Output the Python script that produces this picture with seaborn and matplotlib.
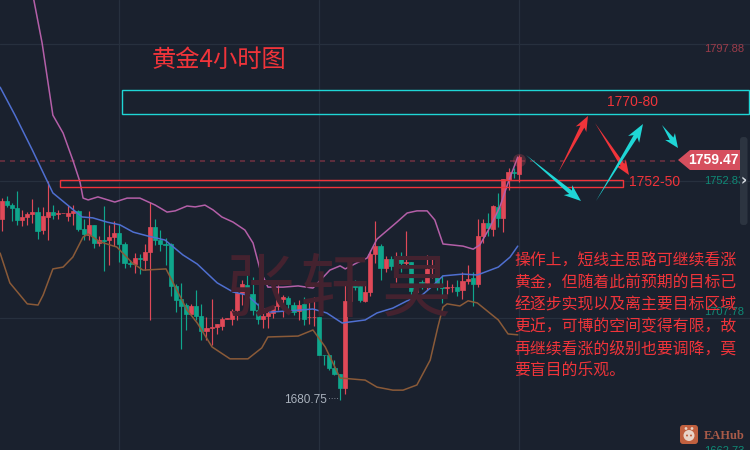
import numpy as np
import pandas as pd
import seaborn as sns
import matplotlib
matplotlib.use('Agg')
import matplotlib.pyplot as plt
from matplotlib.patches import Polygon, Rectangle, FancyBboxPatch

# 4h gold candles
opens = [1740.3,1746.3,1744.9,1744.0,1740.0,1741.0,1742.0,1742.6,1736.7,1741.0,
         1742.6,1742.0,1742.2,1741.3,1742.4,1743.0,1737.0,1735.1,1738.4,1732.4,
         1733.4,1733.4,1734.4,1735.7,1732.1,1725.9,1725.5,1727.5,1726.8,1729.5,
         1737.7,1733.4,1732.1,1732.1,1718.3,1714.0,1712.0,1709.1,1711.7,1708.4,
         1703.5,1704.5,1704.8,1705.1,1707.5,1707.4,1710.4,1716.0,1718.6,1715.7,
         1710.4,1707.4,1708.4,1709.4,1711.7,1714.0,1714.3,1712.0,1710.1,1712.4,
         1708.0,1708.0,1708.1,1695.6,1695.6,1691.3,1689.4,1684.7,1713.4,1719.9,
         1718.3,1713.4,1716.3,1728.8,1731.5,1724.2,1727.2,1724.9,1727.8,1726.0,
         1726.2,1716.3,1719.5,1719.3,1724.2,1724.9,1718.0,1717.6,1717.9,1718.0,
         1717.0,1719.9,1720.9,1719.0,1734.7,1739.0,1737.0,1744.3,1740.7,1753.2,
         1755.8,1755.1]
closes = [1746.3,1744.9,1744.0,1740.0,1741.0,1742.0,1742.6,1736.4,1741.3,1742.6,
          1741.7,1742.3,1742.3,1742.3,1743.0,1737.0,1735.4,1738.4,1732.4,1733.4,
          1733.2,1734.4,1735.7,1732.1,1725.9,1725.6,1727.5,1727.3,1729.5,1737.7,
          1733.4,1732.1,1731.8,1718.3,1713.7,1711.7,1709.1,1711.7,1708.4,1703.5,
          1704.5,1704.8,1705.8,1707.4,1707.8,1710.1,1716.0,1719.0,1715.7,1710.4,
          1707.4,1708.4,1709.4,1711.7,1714.0,1714.7,1712.4,1709.7,1712.0,1707.4,
          1708.2,1708.2,1695.6,1695.5,1691.3,1689.4,1684.7,1713.4,1719.6,1718.0,
          1713.7,1716.3,1728.8,1731.5,1724.2,1727.2,1724.9,1727.5,1725.9,1726.2,
          1716.6,1719.0,1719.3,1723.9,1724.9,1718.0,1717.5,1717.9,1718.1,1716.6,
          1719.9,1720.6,1719.0,1734.7,1739.0,1737.4,1744.6,1740.7,1753.5,1755.8,
          1755.6,1760.7]
highs = [1747.1,1747.9,1745.7,1749.5,1743.3,1742.6,1746.8,1744.3,1744.3,1752.8,
         1744.9,1743.3,1742.3,1744.9,1744.9,1743.3,1740.3,1743.0,1738.4,1734.7,
         1744.6,1738.4,1739.7,1738.7,1732.8,1726.8,1729.0,1728.8,1732.1,1745.9,
         1740.3,1736.7,1734.0,1732.4,1719.0,1719.2,1712.6,1712.4,1717.0,1712.4,
         1708.1,1714.0,1705.8,1708.1,1707.8,1710.7,1717.0,1720.3,1724.2,1721.4,
         1712.6,1710.1,1710.4,1711.7,1718.6,1715.3,1715.0,1713.0,1713.7,1714.8,
         1714.0,1714.7,1708.1,1695.6,1695.6,1694.0,1689.4,1718.6,1719.6,1720.3,
         1718.6,1718.6,1730.1,1739.7,1732.1,1728.2,1728.2,1729.5,1729.5,1736.4,
         1726.2,1719.0,1720.3,1728.5,1728.2,1725.8,1721.9,1720.3,1719.0,1720.3,
         1722.9,1725.2,1722.9,1740.3,1740.3,1742.2,1744.9,1748.9,1753.5,1757.1,
         1757.1,1761.4]
lows = [1736.4,1744.4,1739.7,1738.4,1738.0,1738.4,1738.9,1733.8,1735.4,1733.4,
        1740.3,1740.3,1742.2,1739.7,1738.4,1736.4,1733.4,1733.4,1730.8,1731.5,
        1723.3,1725.2,1731.5,1726.2,1724.2,1724.4,1722.6,1722.2,1723.6,1707.1,
        1731.8,1729.8,1725.2,1715.0,1709.7,1697.6,1703.8,1709.1,1707.1,1700.5,
        1700.5,1698.9,1702.5,1703.8,1707.5,1705.5,1707.1,1712.0,1712.4,1708.8,
        1705.8,1704.5,1704.5,1707.8,1710.4,1708.1,1710.4,1708.8,1707.1,1705.5,
        1705.8,1705.1,1695.6,1692.3,1690.7,1689.0,1680.8,1682.8,1710.1,1717.0,
        1713.0,1713.0,1715.0,1725.8,1720.3,1722.9,1723.6,1719.6,1722.9,1724.5,
        1714.3,1715.0,1717.3,1717.0,1720.9,1717.0,1712.7,1715.7,1716.3,1715.0,
        1714.0,1719.0,1711.7,1718.0,1732.3,1734.7,1734.7,1737.7,1736.1,1749.9,
        1753.8,1752.5]

# bollinger bands
upper_x = [6.1,7.9,10.0,12.0,13.9,15.3,15.9,16.9,18.8,22.1,24.5,27.0,30.0,32.3,33.9,36.2,37.8,39.7,41.3,43.0,
           45.2,47.5,49.1,50.5,52.0,55.0,57.9,60.8,64.1,66.1,67.1,69.4,71.4,73.3,77.2,79.2,81.1,83.1,84.6,86.2,
           90.1,92.1,93.4,95.4,97.3,98.9,100.8]
upper_y = [1814.0,1798.2,1774.5,1768.6,1759.7,1752.5,1747.2,1746.6,1747.6,1745.9,1747.2,1747.2,1744.9,1742.6,1743.0,1744.6,1744.3,1744.9,1743.3,1741.0,
           1739.3,1736.7,1732.4,1723.5,1717.9,1717.9,1718.3,1717.6,1723.5,1724.9,1723.9,1725.9,1727.5,1733.7,1739.3,1742.3,1743.0,1743.0,1740.0,1732.1,
           1731.4,1730.4,1731.8,1737.7,1744.3,1752.2,1760.7]
middle_x = [-0.3,2.6,6.0,10.0,15.7,17.8,20.6,23.1,25.7,28.6,31.9,35.4,38.2,42.1,45.2,47.9,50.5,52.4,56.3,60.8,
            63.5,66.5,71.0,73.3,76.4,79.2,81.7,83.7,86.2,90.1,92.9,97.0,99.3,100.8]
middle_y = [1783.7,1774.5,1763.0,1748.9,1741.0,1740.7,1739.3,1738.4,1736.0,1734.7,1733.4,1728.5,1725.5,1719.3,1716.3,1715.3,1711.4,1709.7,1710.1,1710.7,
            1709.4,1706.1,1707.1,1709.4,1711.0,1713.4,1714.7,1717.6,1721.6,1722.2,1721.9,1724.5,1727.8,1731.4]
lower_x = [-0.3,1.6,5.0,7.1,8.1,10.0,12.0,13.9,15.9,16.9,19.2,22.5,25.5,27.6,32.1,33.5,36.2,38.2,41.1,44.6,
           48.1,50.8,52.0,57.9,60.8,63.2,66.1,71.0,73.3,76.4,78.4,81.1,83.7,85.2,86.2,87.0,89.5,91.1,92.9,97.0,
           98.9,100.8]
lower_y = [1729.1,1719.3,1712.4,1712.0,1715.3,1723.9,1724.5,1727.8,1734.4,1735.4,1732.8,1731.1,1725.9,1723.5,1723.9,1719.3,1710.4,1706.1,1698.2,1694.3,
           1694.3,1697.9,1701.5,1701.8,1703.8,1698.2,1688.0,1687.3,1685.0,1684.0,1684.0,1685.7,1693.9,1704.8,1711.4,1712.4,1711.7,1713.4,1712.7,1707.1,
           1702.5,1702.2]

last_price = 1759.47
grid_prices = [1797.88, 1752.83, 1707.78]
title = '黄金4小时图'
note_lines = ['操作上，短线主思路可继续看涨', '黄金，但随着此前预期的目标已', '经逐步实现以及离主要目标区域',
              '更近，可博的空间变得有限，故', '再继续看涨的级别也要调降，莫', '要盲目的乐观。']

BG = '#1a212e'
UP = '#e04958'
DOWN = '#0fa68c'
RED = '#f0343a'
CYAN = '#1fd6d6'

sns.set_style('dark', {'axes.facecolor': BG, 'figure.facecolor': BG})
plt.rcParams['font.family'] = ['Noto Sans CJK SC', 'DejaVu Sans']

fig = plt.figure(figsize=(7.5, 4.5), dpi=100)
ax = fig.add_axes([0, 0, 1, 1])
ax.axis('off')

# grid lines, behind everything
for p in grid_prices:
    ax.axhline(p, color='#27303e', lw=0.9, zorder=0)
for b in [22.9, 62, 101]:
    ax.axvline(b, color='#27303e', lw=0.9, zorder=0)
ax.axhline(last_price, color='#6b3040', lw=1.2, ls=(0, (3, 3)), zorder=1)

# candles
df = pd.DataFrame({'open': opens, 'close': closes, 'high': highs, 'low': lows})
df['bar'] = df.index
df['color'] = np.where(df['close'] >= df['open'], UP, DOWN)
ax.vlines(df['bar'], df['low'], df['high'], colors=df['color'], lw=0.85, zorder=3)
ax.bar(df['bar'], (df['close'] - df['open']).abs(), bottom=df[['open', 'close']].min(axis=1),
       width=0.8, color=df['color'], edgecolor=df['color'], linewidth=0.5, zorder=4)

# bands
bands = [(upper_x, upper_y, '#b45fa8'), (middle_x, middle_y, '#4f6fd0'), (lower_x, lower_y, '#8a5a38')]
for bx, by, col in bands:
    sns.lineplot(x=bx, y=by, ax=ax, color=col, lw=1.1, sort=False, estimator=None, errorbar=None, zorder=5)
ax.scatter([df['bar'].iloc[-1]], [closes[-1] - 0.8], s=90, color=UP, alpha=0.25, lw=0, zorder=5)
ax.set_xlim(-0.326, 146.16)
ax.set_ylim(1664.3, 1812.4)

# drawings sit on an overlay in screen pixels
ov = fig.add_axes([0, 0, 1, 1], facecolor='none')
ov.set_xlim(0, 750)
ov.set_ylim(450, 0)
ov.axis('off')


def arrow(x0, y0, x1, y1, col, head=16, wing=6.5, neck=2.2):
    t = np.array([x0, y0], float)
    h = np.array([x1, y1], float)
    u = (h - t) / np.hypot(*(h - t))
    n = np.array([-u[1], u[0]])
    pts = [t, h - u * head * 0.8 + n * neck, h - u * head + n * wing, h,
           h - u * head - n * wing, h - u * head * 0.8 - n * neck]
    ov.add_patch(Polygon(pts, closed=True, fc=col, ec='none', zorder=8))


arrow(558, 173, 588, 116, RED, head=15, wing=6)
arrow(595, 123, 629, 175, RED, head=15, wing=6)
arrow(526, 155, 581, 201, CYAN, head=17, wing=6.5)
arrow(596, 201, 643, 124, CYAN, head=18, wing=6.5)
arrow(662, 125, 678, 148, CYAN, head=14, wing=6)

ov.add_patch(Rectangle((121.5, 89.5), 627, 24.5, fc='none', ec=CYAN, lw=1, zorder=7))
ov.add_patch(Rectangle((59.5, 179.5), 563, 7.5, fc='none', ec=RED, lw=1, zorder=7))

# watermark
for wx, ch in zip([260, 334, 416], '张轩昊'):
    ov.text(wx, 291, ch, color='#44222f', fontsize=50, ha='center', va='center', zorder=0.5)

ov.text(152, 60, title, color=RED, fontsize=17.5, va='center', zorder=9)
ov.text(632.5, 102, '1770-80', color=RED, fontsize=10, ha='center', va='center', family='Liberation Sans', zorder=9)
ov.text(629, 182, '1752-50', color=RED, fontsize=10, va='center', family='Liberation Sans', zorder=9)
for i, line in enumerate(note_lines):
    ov.text(514, 260.5 + i * 22.2, line, color=RED, fontsize=11.4, va='center', zorder=9)

# price scale labels
ov.text(704, 49, '1797.88', color='#9c3c4a', fontsize=8, va='center', family='Liberation Sans')
ov.text(704, 181, '1752.83', color='#0f8a76', fontsize=8, va='center', family='Liberation Sans')
ov.text(704, 312, '1707.78', color='#0f8a76', fontsize=8, va='center', family='Liberation Sans', zorder=2)
ov.text(704, 451, '1662.73', color='#0f8a76', fontsize=8, va='center', family='Liberation Sans')
ov.text(284, 400, '1680.75', color='#aab2bd', fontsize=8.5, va='center', family='Liberation Sans')
ov.text(328, 400, '····', color='#aab2bd', fontsize=6, va='center', family='Liberation Sans')

ov.add_patch(Polygon([(678, 160), (690, 150), (740, 150), (740, 170), (690, 170)], fc='#d64f5e', ec='none', zorder=8))
ov.text(713, 160, '1759.47', color='white', fontsize=10, fontweight='bold', ha='center', va='center',
        family='Liberation Sans', zorder=9)

# scrollbar
ov.add_patch(FancyBboxPatch((740, 137), 7.5, 88, boxstyle='round,pad=0,rounding_size=3', fc='#2c3440', ec='none', zorder=6))
ov.text(744, 181, '›', color='#d6dbe2', fontsize=11, ha='center', va='center', fontweight='bold',
        family='DejaVu Sans', zorder=9)

# EAHub logo
ov.add_patch(FancyBboxPatch((680, 425), 18, 19, boxstyle='round,pad=0,rounding_size=3', fc='#c0603f', ec='none', zorder=9))
ov.add_patch(plt.Circle((689, 435.5), 5.5, fc='#e8d4c8', ec='none', zorder=10))
ov.add_patch(plt.Circle((686, 428.5), 1.4, fc='#e8d4c8', ec='none', zorder=10))
ov.add_patch(plt.Circle((692, 428.5), 1.4, fc='#e8d4c8', ec='none', zorder=10))
ov.add_patch(plt.Circle((687, 435.5), 1.0, fc='#c0603f', ec='none', zorder=11))
ov.add_patch(plt.Circle((691, 435.5), 1.0, fc='#c0603f', ec='none', zorder=11))
ov.text(704, 436, 'EAHub', color='#a85a48', fontsize=9, fontweight='bold', va='center',
        family='Liberation Serif', zorder=9)

fig.savefig('out.png', dpi=100, facecolor=BG)
